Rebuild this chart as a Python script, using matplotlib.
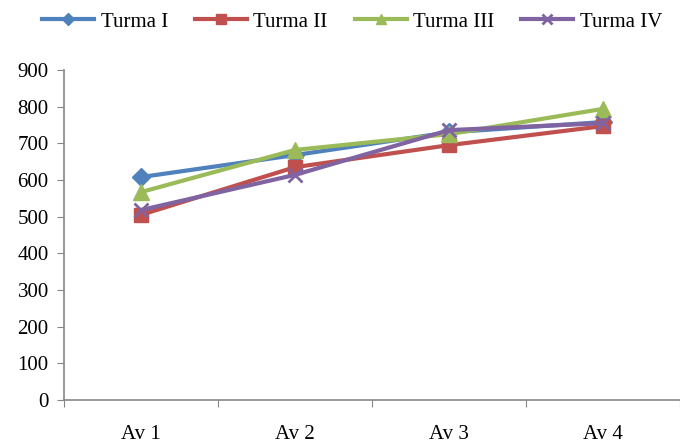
from matplotlib import pyplot as plt
import numpy as np

categorias = ['Av 1', 'Av 2', 'Av 3', 'Av 4']
turma_1 = [608, 668, 730, 758]
turma_2 = [505, 635, 695, 747]
turma_3 = [567, 682, 725, 794]
turma_4 = [518, 614, 736, 755]

plt.rcParams['font.family'] = ['Liberation Serif', 'DejaVu Serif']
plt.rcParams['font.size'] = 15

fig = plt.figure(figsize=(6.8, 4.43), dpi=100)
ax = fig.add_axes([64 / 680, 43 / 443, 1 - 64 / 680, 330 / 443])

x = np.arange(len(categorias))
ax.plot(x, turma_1, color='#4F81BD', lw=3, marker='D', ms=9, label='Turma I')
ax.plot(x, turma_2, color='#C0504D', lw=3, marker='s', ms=10, label='Turma II')
ax.plot(x, turma_3, color='#9BBB59', lw=3, marker='^', ms=11, label='Turma III')
ax.plot(x, turma_4, color='#8064A2', lw=3, marker='x', ms=10, mew=2, label='Turma IV')

ax.set_ylim(0, 900)
ax.set_yticks(np.arange(0, 1000, 100))
ax.set_xlim(-0.5, 3.45)
ax.set_xticks(np.arange(-0.5, 4, 1))
ax.set_xticklabels([])
ax.set_xticks(x, minor=True)
ax.set_xticklabels(categorias, minor=True)
ax.tick_params(axis='x', which='minor', length=0, pad=18)
ax.tick_params(axis='x', which='major', length=5, color='#868686', direction='out')
ax.tick_params(axis='y', length=5, color='#868686', direction='out', pad=6)

for s in ['top', 'right']:
    ax.spines[s].set_visible(False)
for s in ['left', 'bottom']:
    ax.spines[s].set_color('#868686')
    ax.spines[s].set_linewidth(1.2)

fig.legend(loc='upper center', bbox_to_anchor=(0.518, 1.015), ncol=4, frameon=False,
           handlelength=2.5, columnspacing=1.3, handletextpad=0.3, fontsize=15,
           markerscale=0.7)

fig.savefig('out.png', dpi=100)
